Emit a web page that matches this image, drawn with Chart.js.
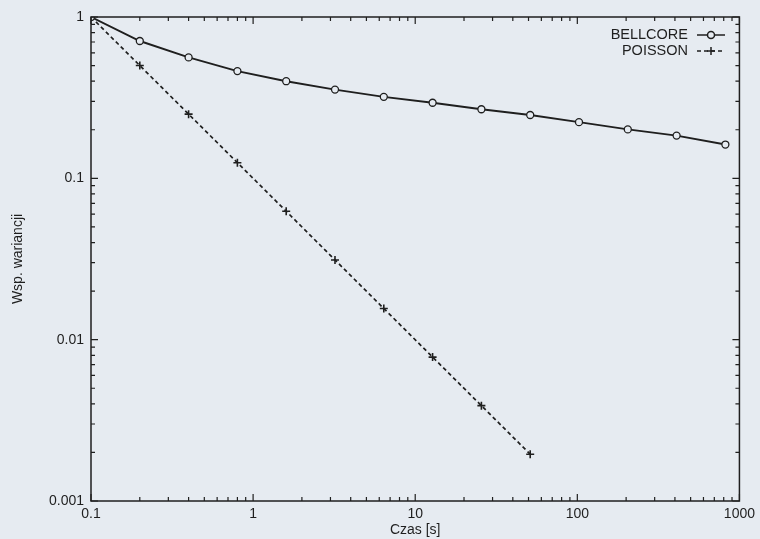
<!DOCTYPE html>
<html>
<head>
<meta charset="utf-8">
<script src="https://cdn.jsdelivr.net/npm/chart.js@4/dist/chart.umd.min.js"></script>
<style>
  html, body { margin: 0; padding: 0; background: #e6ebf1; }
  #wrap { width: 760px; height: 539px; }
</style>
</head>
<body>
<div id="wrap"><canvas id="myChart" width="760" height="539"></canvas></div>
<script>
// Dane
const czasBellcore = [0.1, 0.2, 0.4, 0.8, 1.6, 3.2, 6.4, 12.8, 25.6, 51.2, 102.4, 204.8, 409.6, 819.2];
const wartBellcore = [1, 0.71, 0.562, 0.462, 0.40, 0.355, 0.32, 0.294, 0.268, 0.247, 0.223, 0.201, 0.184, 0.162];
const czasPoisson = [0.1, 0.2, 0.4, 0.8, 1.6, 3.2, 6.4, 12.8, 25.6, 51.2];
const wartPoisson = [1, 0.5, 0.25, 0.125, 0.0625, 0.0312, 0.0156, 0.0078, 0.0039, 0.00195];

const xTicks = [0.1, 1, 10, 100, 1000];
const xTickLabels = ['0.1', '1', '10', '100', '1000'];
const yTicks = [0.001, 0.01, 0.1, 1];
const yTickLabels = ['0.001', '0.01', '0.1', '1'];

const legendLabels = ['BELLCORE', 'POISSON'];

const INK = '#1f1f1f';
const BG = '#e6ebf1';
const FONT = "'Liberation Sans', Arial, sans-serif";

function toPoints(xs, ys) {
  return xs.map((x, i) => ({ x: x, y: ys[i] }));
}

// Podziałki pomocnicze (2..9 w każdej dekadzie)
function minorValues(decades) {
  const out = [];
  for (let i = 0; i < decades.length - 1; i++) {
    for (let k = 2; k <= 9; k++) out.push(decades[i] * k);
  }
  return out;
}

// Ramka i znaczniki skierowane do środka (styl gnuplot)
const framePlugin = {
  id: 'frame',
  afterDatasetsDraw(chart) {
    const { ctx, chartArea: a, scales } = chart;
    ctx.save();
    ctx.strokeStyle = INK;
    ctx.lineWidth = 1.5;
    ctx.strokeRect(a.left, a.top, a.right - a.left, a.bottom - a.top);

    ctx.lineWidth = 1.2;
    ctx.beginPath();
    const tick = (vals, len, horiz) => {
      vals.forEach(v => {
        if (horiz) {
          const px = scales.x.getPixelForValue(v);
          ctx.moveTo(px, a.bottom); ctx.lineTo(px, a.bottom - len);
          ctx.moveTo(px, a.top); ctx.lineTo(px, a.top + len);
        } else {
          const py = scales.y.getPixelForValue(v);
          ctx.moveTo(a.left, py); ctx.lineTo(a.left + len, py);
          ctx.moveTo(a.right, py); ctx.lineTo(a.right - len, py);
        }
      });
    };
    tick(xTicks, 7, true);
    tick(minorValues(xTicks), 4, true);
    tick(yTicks, 7, false);
    tick(minorValues(yTicks), 4, false);
    ctx.stroke();
    ctx.restore();
  }
};

// Legenda wewnątrz wykresu, prawy górny róg
const legendPlugin = {
  id: 'gpLegend',
  afterDraw(chart) {
    const { ctx } = chart;
    ctx.save();
    ctx.font = '14.5px ' + FONT;
    ctx.fillStyle = INK;
    ctx.textAlign = 'right';
    ctx.textBaseline = 'middle';
    const rows = [35, 51];
    chart.data.datasets.forEach((ds, i) => {
      const y = rows[i];
      ctx.fillText(legendLabels[i], 688, y);
      ctx.strokeStyle = INK;
      ctx.lineWidth = 1.5;
      ctx.setLineDash(ds.borderDash || []);
      ctx.beginPath();
      ctx.moveTo(697, y); ctx.lineTo(725, y);
      ctx.stroke();
      ctx.setLineDash([]);
      const mx = 711;
      ctx.beginPath();
      if (ds.pointStyle === 'circle') {
        ctx.fillStyle = BG;
        ctx.arc(mx, y, ds.pointRadius, 0, Math.PI * 2);
        ctx.fill();
        ctx.stroke();
        ctx.fillStyle = INK;
      } else {
        ctx.moveTo(mx - ds.pointRadius, y); ctx.lineTo(mx + ds.pointRadius, y);
        ctx.moveTo(mx, y - ds.pointRadius); ctx.lineTo(mx, y + ds.pointRadius);
        ctx.stroke();
      }
    });
    ctx.restore();
  }
};

const ctx = document.getElementById('myChart').getContext('2d');

const chart = new Chart(ctx, {
  type: 'line',
  data: {
    datasets: [
      {
        label: legendLabels[0],
        data: toPoints(czasBellcore, wartBellcore),
        borderColor: INK,
        borderWidth: 1.9,
        pointStyle: 'circle',
        pointRadius: 3.5,
        pointBorderWidth: 1.3,
        pointBackgroundColor: BG,
        pointBorderColor: INK,
        tension: 0
      },
      {
        label: legendLabels[1],
        data: toPoints(czasPoisson, wartPoisson),
        borderColor: INK,
        borderWidth: 1.7,
        borderDash: [4, 3],
        pointStyle: 'cross',
        pointRadius: 4,
        pointBorderWidth: 1.6,
        pointBorderColor: INK,
        tension: 0
      }
    ]
  },
  options: {
    responsive: false,
    animation: false,
    layout: { padding: { top: 17, right: 19, left: 0, bottom: 0 } },
    plugins: {
      legend: { display: false },
      tooltip: { enabled: false }
    },
    scales: {
      x: {
        type: 'logarithmic',
        min: 0.1,
        max: 1000,
        afterFit: s => { s.height = 38; },
        afterBuildTicks: s => { s.ticks = xTicks.map(v => ({ value: v })); },
        grid: { display: false, drawTicks: false },
        border: { display: false },
        ticks: {
          autoSkip: false,
          maxRotation: 0,
          padding: 5,
          color: INK,
          font: { family: FONT, size: 14 },
          callback: (v) => xTickLabels[xTicks.indexOf(v)]
        },
        title: {
          display: true,
          text: 'Czas [s]',
          color: INK,
          padding: 0,
          font: { family: FONT, size: 14 }
        }
      },
      y: {
        type: 'logarithmic',
        min: 0.001,
        max: 1,
        afterFit: s => { s.width = 91; },
        afterBuildTicks: s => { s.ticks = yTicks.map(v => ({ value: v })); },
        grid: { display: false, drawTicks: false },
        border: { display: false },
        ticks: {
          autoSkip: false,
          padding: 7,
          color: INK,
          font: { family: FONT, size: 14 },
          callback: (v) => yTickLabels[yTicks.indexOf(v)]
        },
        title: {
          display: true,
          text: 'Wsp. wariancji',
          color: INK,
          padding: { top: 10, bottom: 10 },
          font: { family: FONT, size: 14 }
        }
      }
    }
  },
  plugins: [framePlugin, legendPlugin]
});
</script>
</body>
</html>
